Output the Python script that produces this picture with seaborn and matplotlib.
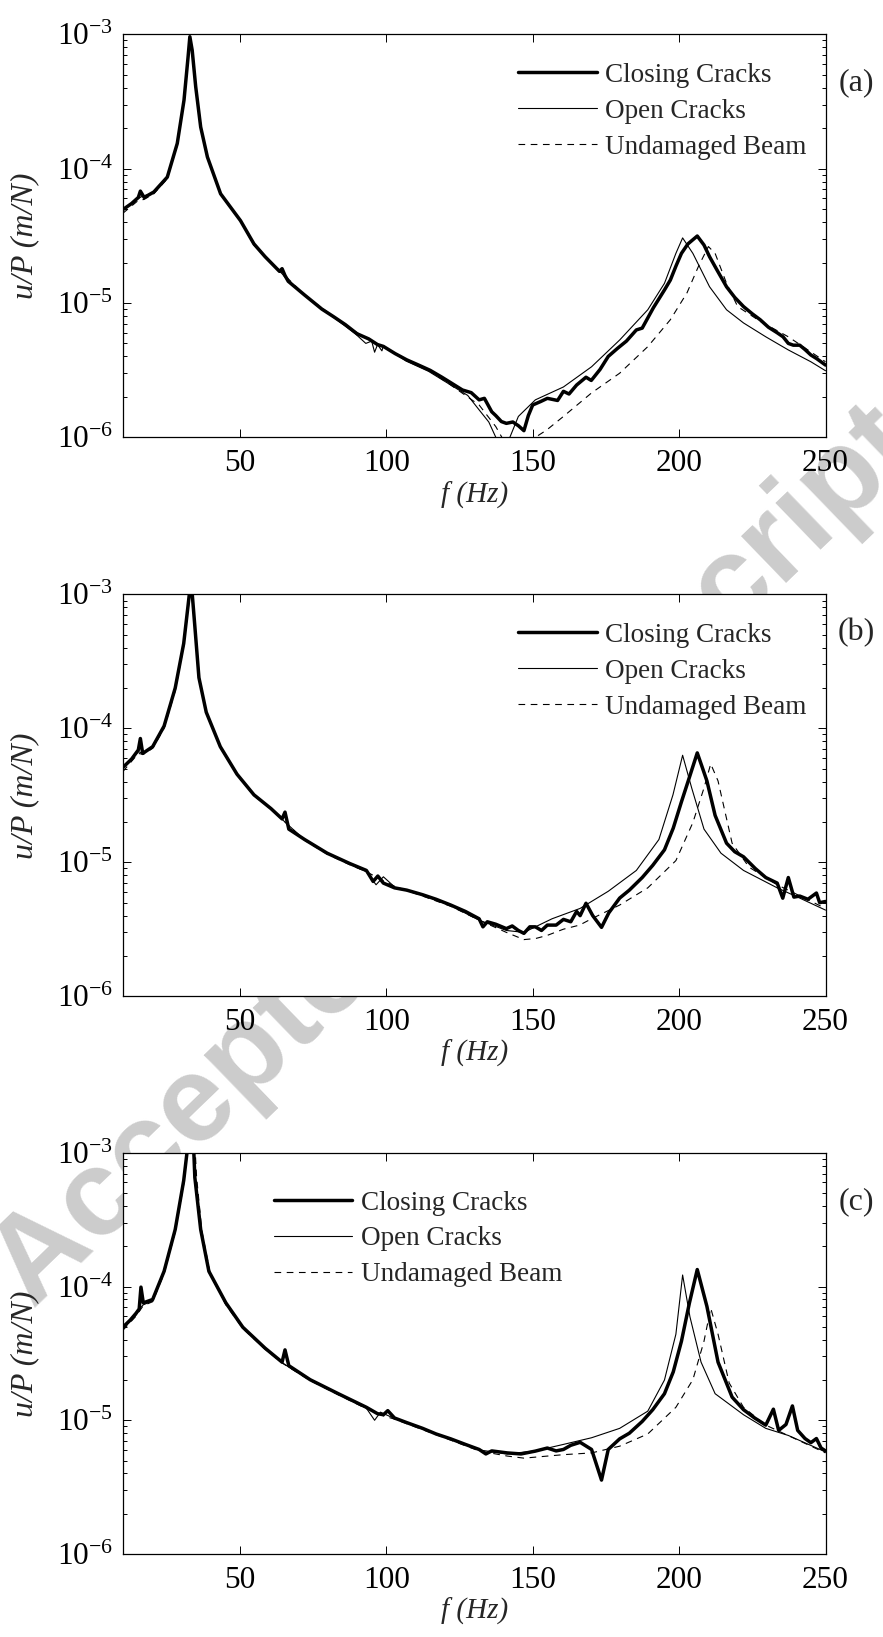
import matplotlib
matplotlib.use('Agg')
import matplotlib.pyplot as plt
from matplotlib import ticker
import numpy as np
import pandas as pd
import seaborn as sns

#%% =============================== #
# data: (f [Hz], u/P [m/N])
# ================================= #
closing_a = [(10, 4.95e-5), (13, 5.5e-5), (15.3, 6.1e-5), (16.0, 6.8e-5), (17.3, 6.1e-5),
             (20.6, 6.7e-5), (25.2, 8.65e-5), (28.6, 1.54e-4), (30.9, 3.23e-4), (32.3, 6.8e-4),
             (32.9, 9.6e-4), (33.7, 7.6e-4), (34.9, 4.07e-4), (36.6, 2.04e-4), (38.9, 1.22e-4),
             (43.4, 6.5e-5), (50.2, 4.1e-5), (54.8, 2.75e-5), (58.6, 2.21e-5), (63.5, 1.72e-5),
             (64.4, 1.8e-5), (65.4, 1.6e-5), (66.5, 1.45e-5), (72, 1.15e-5), (78, 9.0e-6),
             (82, 7.9e-6), (86, 6.9e-6), (90, 5.9e-6), (94, 5.4e-6), (97, 4.9e-6),
             (99, 4.75e-6), (103, 4.2e-6), (107, 3.77e-6), (111, 3.45e-6), (115, 3.15e-6),
             (119, 2.8e-6), (122, 2.55e-6), (126, 2.25e-6), (129, 2.15e-6), (131.7, 1.9e-6),
             (133.5, 1.95e-6), (136, 1.55e-6), (137.4, 1.45e-6), (139.3, 1.31e-6), (141, 1.27e-6),
             (143.2, 1.3e-6), (145.1, 1.22e-6), (147, 1.12e-6), (148.5, 1.45e-6), (150, 1.74e-6),
             (152.8, 1.85e-6), (155, 1.95e-6), (158.5, 1.88e-6), (160.5, 2.2e-6), (162.4, 2.1e-6),
             (165, 2.45e-6), (168.2, 2.8e-6), (170, 2.65e-6), (173, 3.2e-6), (175.8, 4.0e-6),
             (179, 4.6e-6), (182, 5.2e-6), (185.4, 6.3e-6), (187.4, 6.5e-6), (191.2, 9.2e-6),
             (195, 1.25e-5), (197, 1.48e-5), (199, 1.9e-5), (200.8, 2.34e-5), (203, 2.75e-5),
             (206.2, 3.15e-5), (208.5, 2.7e-5), (210.4, 2.21e-5), (213, 1.75e-5), (216.2, 1.32e-5),
             (219, 1.1e-5), (222, 9.4e-6), (225, 8.3e-6), (227.7, 7.5e-6), (230.5, 6.6e-6),
             (233.5, 6.0e-6), (235.5, 5.6e-6), (237.3, 5.0e-6), (239, 4.85e-6), (241.2, 4.85e-6),
             (243, 4.5e-6), (245, 4.1e-6), (247, 3.85e-6), (250, 3.45e-6)]
open_a = [(10, 4.9e-5), (15.3, 6.0e-5), (16.5, 6.2e-5), (20.6, 6.6e-5), (25.2, 8.5e-5),
          (28.6, 1.5e-4), (30.9, 3.2e-4), (32.3, 6.7e-4), (33.0, 9.4e-4), (33.8, 7.4e-4),
          (34.9, 4.0e-4), (36.6, 2.0e-4), (38.9, 1.2e-4), (43.4, 6.5e-5), (50.2, 4.1e-5),
          (54.8, 2.7e-5), (58.6, 2.2e-5), (64.4, 1.65e-5), (66.5, 1.45e-5), (74, 1.05e-5),
          (81.7, 7.9e-6), (89.4, 5.9e-6), (93, 5.0e-6), (95, 5.2e-6), (96, 4.3e-6),
          (97, 4.9e-6), (98.5, 4.4e-6), (99, 4.8e-6), (106.7, 3.7e-6), (114.4, 3.1e-6),
          (122, 2.45e-6), (127.8, 2.05e-6), (131.7, 1.6e-6), (135, 1.3e-6), (137.4, 1.0e-6),
          (139.5, 7e-7), (142.2, 1.0e-6), (145.1, 1.43e-6), (150.9, 1.9e-6), (160.5, 2.37e-6),
          (170.1, 3.35e-6), (179.7, 5.3e-6), (189.3, 8.9e-6), (195, 1.4e-5), (198.9, 2.34e-5),
          (201.2, 3.05e-5), (204.7, 2.34e-5), (210.4, 1.32e-5), (216.2, 8.9e-6), (222, 7.1e-6),
          (229.6, 5.6e-6), (237.3, 4.47e-6), (245, 3.65e-6), (250, 3.13e-6)]
undamaged_a = [(10, 4.65e-5), (15.3, 5.8e-5), (17.3, 5.9e-5), (20.6, 6.5e-5), (25.2, 8.4e-5),
               (28.6, 1.5e-4), (30.9, 3.1e-4), (32.3, 6.4e-4), (33.1, 9.2e-4), (33.9, 7.3e-4),
               (35.1, 3.9e-4), (36.8, 2.0e-4), (39.1, 1.2e-4), (43.4, 6.4e-5), (50.2, 4.05e-5),
               (54.8, 2.7e-5), (58.6, 2.2e-5), (64.4, 1.68e-5), (72, 1.15e-5), (82, 7.9e-6),
               (90, 6.0e-6), (96, 5.1e-6), (99, 4.7e-6), (107, 3.8e-6), (115, 3.1e-6),
               (122, 2.45e-6), (131.7, 1.74e-6), (137.4, 1.2e-6), (141.3, 8.5e-7), (147, 7e-7),
               (150.9, 1.0e-6), (154.7, 1.13e-6), (160.5, 1.43e-6), (170.1, 2.14e-6), (179.7, 3.0e-6),
               (189.3, 4.73e-6), (197, 7.5e-6), (202.7, 1.19e-5), (206.6, 1.87e-5), (210.0, 2.63e-5),
               (212.3, 2.34e-5), (216.2, 1.4e-5), (220, 9.4e-6), (227.7, 7.3e-6), (237.3, 5.6e-6),
               (250, 3.65e-6)]

closing_b = [(10, 5.1e-5), (13, 5.9e-5), (15.3, 6.9e-5), (16.0, 8.4e-5), (16.8, 6.5e-5),
             (20.2, 7.3e-5), (24.1, 1.04e-4), (27.9, 2.0e-4), (30.8, 4.3e-4), (32.3, 8.3e-4),
             (33.3, 1.3e-3), (34.6, 5.8e-4), (36.0, 2.39e-4), (38.5, 1.32e-4), (43.3, 7.3e-5),
             (49.0, 4.55e-5), (54.8, 3.19e-5), (60.6, 2.52e-5), (64.4, 2.11e-5), (65.4, 2.37e-5),
             (66.7, 1.77e-5), (72.1, 1.48e-5), (79.8, 1.17e-5), (87.5, 9.8e-6), (93.2, 8.7e-6),
             (95.5, 7.2e-6), (97.1, 7.9e-6), (99, 7.0e-6), (102.8, 6.45e-6), (107, 6.2e-6),
             (112.4, 5.73e-6), (117, 5.3e-6), (122, 4.8e-6), (127, 4.3e-6), (131.7, 3.79e-6),
             (133, 3.3e-6), (134.5, 3.6e-6), (137.4, 3.45e-6), (141, 3.2e-6), (143, 3.35e-6),
             (145.1, 3.1e-6), (147, 2.95e-6), (149, 3.3e-6), (150.9, 3.3e-6), (153, 3.1e-6),
             (155, 3.4e-6), (158, 3.4e-6), (160.5, 3.75e-6), (163, 3.6e-6), (165, 4.3e-6),
             (166.2, 4.0e-6), (168.2, 4.95e-6), (170.5, 4.0e-6), (173.5, 3.27e-6), (176, 4.2e-6),
             (179.7, 5.41e-6), (183, 6.2e-6), (187.4, 7.7e-6), (191, 9.5e-6), (195, 1.24e-5),
             (198, 1.8e-5), (200.8, 2.83e-5), (203.5, 4.3e-5), (206.2, 6.56e-5), (207.8, 5.2e-5),
             (209.5, 4.05e-5), (212.3, 2.24e-5), (216.2, 1.39e-5), (219, 1.2e-5), (222, 1.1e-5),
             (226, 9.0e-6), (229.6, 7.7e-6), (233.5, 7.0e-6), (235.4, 5.4e-6), (237.3, 7.7e-6),
             (239.2, 5.5e-6), (241.2, 5.6e-6), (244, 5.3e-6), (246.9, 5.9e-6), (248, 5.0e-6),
             (250, 5.1e-6)]
open_b = [(10, 4.98e-5), (15.3, 6.7e-5), (17.0, 6.5e-5), (20.2, 7.2e-5), (24.1, 1.02e-4),
          (27.9, 1.95e-4), (30.8, 4.2e-4), (32.3, 8.1e-4), (33.2, 1.25e-3), (34.5, 5.8e-4),
          (36.0, 2.35e-4), (38.5, 1.3e-4), (43.3, 7.2e-5), (49.0, 4.5e-5), (54.8, 3.15e-5),
          (60.6, 2.5e-5), (65.4, 2.0e-5), (72.1, 1.47e-5), (79.8, 1.16e-5), (87.5, 9.7e-6),
          (93.2, 8.5e-6), (96.5, 6.8e-6), (99, 7.8e-6), (103, 6.5e-6), (112.4, 5.7e-6),
          (122, 4.75e-6), (131.7, 3.7e-6), (141, 3.1e-6), (147, 3.0e-6), (156.6, 3.79e-6),
          (166.2, 4.53e-6), (175.8, 6.08e-6), (185.4, 8.7e-6), (193.1, 1.48e-5), (197.9, 3.19e-5),
          (201.2, 6.3e-5), (204.3, 3.59e-5), (208.5, 1.77e-5), (214.3, 1.17e-5), (222, 8.7e-6),
          (233.5, 6.45e-6), (241.2, 5.41e-6), (250, 4.4e-6)]
undamaged_b = [(10, 4.75e-5), (15.3, 6.5e-5), (17.0, 6.4e-5), (20.2, 7.1e-5), (24.1, 1.0e-4),
               (27.9, 1.9e-4), (30.8, 4.1e-4), (32.4, 8.0e-4), (33.4, 1.2e-3), (34.7, 5.7e-4),
               (36.2, 2.35e-4), (38.6, 1.3e-4), (43.3, 7.2e-5), (49.0, 4.5e-5), (54.8, 3.15e-5),
               (60.6, 2.5e-5), (65.4, 2.0e-5), (72.1, 1.46e-5), (79.8, 1.15e-5), (87.5, 9.6e-6),
               (93.2, 8.5e-6), (99, 7.3e-6), (103, 6.6e-6), (112.4, 5.6e-6), (122, 4.7e-6),
               (131.7, 3.7e-6), (141, 3.0e-6), (147, 2.65e-6), (151, 2.7e-6), (155, 2.85e-6),
               (160.5, 3.17e-6), (166, 3.4e-6), (170.1, 3.79e-6), (179.7, 4.8e-6), (189.3, 6.45e-6),
               (198.9, 1.03e-5), (204.7, 1.98e-5), (208.5, 3.59e-5), (210.8, 5.43e-5), (213.3, 4.05e-5),
               (218.1, 1.39e-5), (223.9, 9.2e-6), (233.5, 6.8e-6), (250, 4.53e-6)]

closing_c = [(10, 4.96e-5), (12.5, 5.6e-5), (14.5, 6.3e-5), (15.6, 6.8e-5), (16.2, 9.9e-5),
             (17.0, 7.55e-5), (20.2, 8.0e-5), (24.1, 1.3e-4), (27.9, 2.67e-4), (30.8, 6.2e-4),
             (32.7, 1.4e-3), (34.0, 1.4e-3), (34.6, 6.56e-4), (36.6, 2.67e-4), (39.4, 1.3e-4),
             (45.2, 7.55e-5), (51, 4.96e-5), (58.6, 3.46e-5), (64.4, 2.72e-5), (65.4, 3.36e-5),
             (66.7, 2.56e-5), (74, 2.01e-5), (83.6, 1.58e-5), (93.2, 1.25e-5), (97, 1.12e-5),
             (99, 1.1e-5), (100.5, 1.18e-5), (102.8, 1.04e-5), (107, 9.6e-6), (112.4, 8.7e-6),
             (117, 7.9e-6), (122, 7.26e-6), (127, 6.6e-6), (131.7, 6.05e-6), (134, 5.6e-6),
             (136, 5.9e-6), (141.3, 5.7e-6), (146, 5.6e-6), (150.9, 5.88e-6), (155, 6.2e-6),
             (158, 5.9e-6), (160.5, 6.05e-6), (163, 6.5e-6), (166.2, 6.84e-6), (170.1, 6.05e-6),
             (173.5, 3.57e-6), (175.8, 6.05e-6), (179.7, 7.26e-6), (183, 8.0e-6), (187.4, 9.8e-6),
             (191, 1.2e-5), (195, 1.58e-5), (198, 2.3e-5), (200.8, 3.9e-5), (203.5, 7.5e-5),
             (206.2, 1.34e-4), (209.5, 7.1e-5), (213.3, 2.72e-5), (218.1, 1.49e-5), (222, 1.2e-5),
             (225.8, 1.04e-5), (229.6, 9.2e-6), (232.2, 1.21e-5), (234, 8.4e-6), (236.5, 9.3e-6),
             (238.7, 1.28e-5), (240.5, 8.4e-6), (243, 7.3e-6), (245, 6.8e-6), (246.9, 7.3e-6),
             (248.5, 6.2e-6), (250, 5.9e-6)]
open_c = [(10, 4.81e-5), (14.5, 6.1e-5), (16.2, 7.0e-5), (17.0, 7.3e-5), (20.2, 7.8e-5),
          (24.1, 1.27e-4), (27.9, 2.6e-4), (30.8, 6.0e-4), (32.6, 1.4e-3), (33.8, 1.4e-3),
          (34.5, 6.4e-4), (36.6, 2.6e-4), (39.4, 1.28e-4), (45.2, 7.4e-5), (51, 4.9e-5),
          (58.6, 3.42e-5), (64.4, 2.7e-5), (66.7, 2.5e-5), (74, 2.0e-5), (83.6, 1.56e-5),
          (93.2, 1.23e-5), (96, 1.0e-5), (98, 1.15e-5), (102.8, 1.03e-5), (112.4, 8.6e-6),
          (122, 7.2e-6), (131.7, 6.0e-6), (141.3, 5.6e-6), (150.9, 5.9e-6), (160.5, 6.6e-6),
          (170.1, 7.4e-6), (179.7, 8.7e-6), (189.3, 1.17e-5), (195, 2.0e-5), (198.9, 4.4e-5),
          (201.2, 1.22e-4), (203.7, 5.94e-5), (207.5, 2.72e-5), (212.3, 1.58e-5), (222, 1.1e-5),
          (229.6, 8.7e-6), (237.3, 7.7e-6), (250, 5.8e-6)]
undamaged_c = [(10, 4.7e-5), (14.5, 6.0e-5), (17.0, 7.2e-5), (20.2, 7.7e-5), (24.1, 1.25e-4),
               (27.9, 2.55e-4), (30.8, 5.8e-4), (32.8, 1.4e-3), (34.4, 1.4e-3), (35.2, 6.6e-4),
               (37.0, 2.6e-4), (39.8, 1.27e-4), (45.2, 7.3e-5), (51, 4.85e-5), (58.6, 3.4e-5),
               (64.4, 2.68e-5), (74, 1.98e-5), (83.6, 1.55e-5), (93.2, 1.22e-5), (99, 1.08e-5),
               (102.8, 1.02e-5), (112.4, 8.5e-6), (122, 7.1e-6), (131.7, 5.9e-6), (141.3, 5.4e-6),
               (147, 5.21e-6), (160.5, 5.53e-6), (170.1, 5.7e-6), (179.7, 6.4e-6), (189.3, 7.9e-6),
               (198.9, 1.25e-5), (204.7, 2.01e-5), (208.5, 3.9e-5), (210.8, 6.9e-5), (213.3, 4.4e-5),
               (217.1, 1.9e-5), (222, 1.25e-5), (229.6, 9.2e-6), (250, 5.7e-6)]

case_names = ['Closing Cracks', 'Open Cracks', 'Undamaged Beam']
panel_tags = ['(a)', '(b)', '(c)']
x_ticks = [50, 100, 150, 200, 250]

#%% =============================== #
# style
# ================================= #
sns.set_style('ticks')
plt.rcParams['font.family'] = ['Liberation Serif', 'DejaVu Serif']
plt.rcParams['mathtext.fontset'] = 'custom'
plt.rcParams['mathtext.rm'] = 'Liberation Serif'
plt.rcParams['mathtext.it'] = 'Liberation Serif:italic'
plt.rcParams['mathtext.default'] = 'regular'

line_style = {
    'Undamaged Beam': dict(linewidth=0.8, linestyle=(0, (6, 5)), zorder=2),
    'Open Cracks': dict(linewidth=0.8, linestyle='-', zorder=3),
    'Closing Cracks': dict(linewidth=2.5, linestyle='-', zorder=4),
}


def to_frame(closing, opened, undamaged):
    rows = []
    for name, pts in zip(case_names, [closing, opened, undamaged]):
        for f, u in pts:
            rows.append({'f': f, 'u': u, 'case': name})
    return pd.DataFrame(rows)


frames = [to_frame(closing_a, open_a, undamaged_a),
          to_frame(closing_b, open_b, undamaged_b),
          to_frame(closing_c, open_c, undamaged_c)]

#%% =============================== #
# figure
# ================================= #
W, H = 883, 1637
fig = plt.figure(figsize=(W / 100, H / 100), dpi=100)

# axes boxes in pixels: top, bottom
boxes = [(34.3, 437.3), (594.4, 996.3), (1152.8, 1554.0)]
left_px, right_px = 122.8, 825.5
legend_anchor = [(0.5624, 0.929), (0.5624, 0.929), (0.215, 0.906)]
tag_y = [83, 633, 1202]

for i, (df, (top, bot)) in enumerate(zip(frames, boxes)):
    ax = fig.add_axes([left_px / W, 1 - bot / H, (right_px - left_px) / W, (bot - top) / H])
    ax.set_yscale('log')
    for name in ['Undamaged Beam', 'Open Cracks', 'Closing Cracks']:
        sns.lineplot(data=df[df['case'] == name], x='f', y='u', ax=ax,
                     color='black', errorbar=None, legend=False, label=name,
                     **line_style[name])

    ax.set_xlim(10, 250)
    ax.set_ylim(1e-6, 1e-3)
    ax.set_xticks(x_ticks)
    ax.xaxis.set_minor_locator(ticker.NullLocator())
    ax.yaxis.set_major_locator(ticker.LogLocator(base=10, numticks=10))
    ax.yaxis.set_minor_locator(ticker.LogLocator(base=10, subs=np.arange(2, 10), numticks=20))
    ax.yaxis.set_major_formatter(ticker.LogFormatterSciNotation())
    ax.yaxis.set_minor_formatter(ticker.NullFormatter())
    ax.tick_params(which='both', direction='in', top=True, right=True,
                   color='black', labelcolor='black', width=0.7)
    ax.tick_params(which='major', length=6, labelsize=22.5)
    ax.tick_params(which='minor', length=3)
    ax.tick_params(axis='x', which='major', pad=8.5)
    ax.tick_params(axis='y', which='major', pad=7)
    for sp in ax.spines.values():
        sp.set_color('black')
        sp.set_linewidth(0.9)

    ax.set_xlabel('f (Hz)', fontsize=21, fontstyle='italic')
    ax.set_ylabel('u/P (m/N)', fontsize=23, fontstyle='italic')
    ax.xaxis.set_label_coords(0.5, -0.143)
    ax.xaxis.label.set_va('center')
    ax.yaxis.set_label_coords(-0.139, 0.5)
    ax.yaxis.label.set_va('center')

    handles, labels = ax.get_legend_handles_labels()
    order = [labels.index(n) for n in case_names]
    ax.legend([handles[k] for k in order], case_names, loc='upper left',
              bbox_to_anchor=legend_anchor[i], frameon=False, fontsize=19.5,
              handlelength=2.9, handletextpad=0.3, labelspacing=0.4,
              borderpad=0, borderaxespad=0)

    fig.text(856 / W, 1 - tag_y[i] / H, panel_tags[i], fontsize=23,
             ha='center', va='center')

# journal watermark, sits behind the axes
fig.text(456 / W, 1 - 858 / H, 'Accepted Manuscript', rotation=44, fontsize=88,
         color='#cccccc', fontweight='bold', family=['Liberation Sans', 'DejaVu Sans'],
         ha='center', va='center', zorder=-1)

fig.savefig('out.png', dpi=100)
